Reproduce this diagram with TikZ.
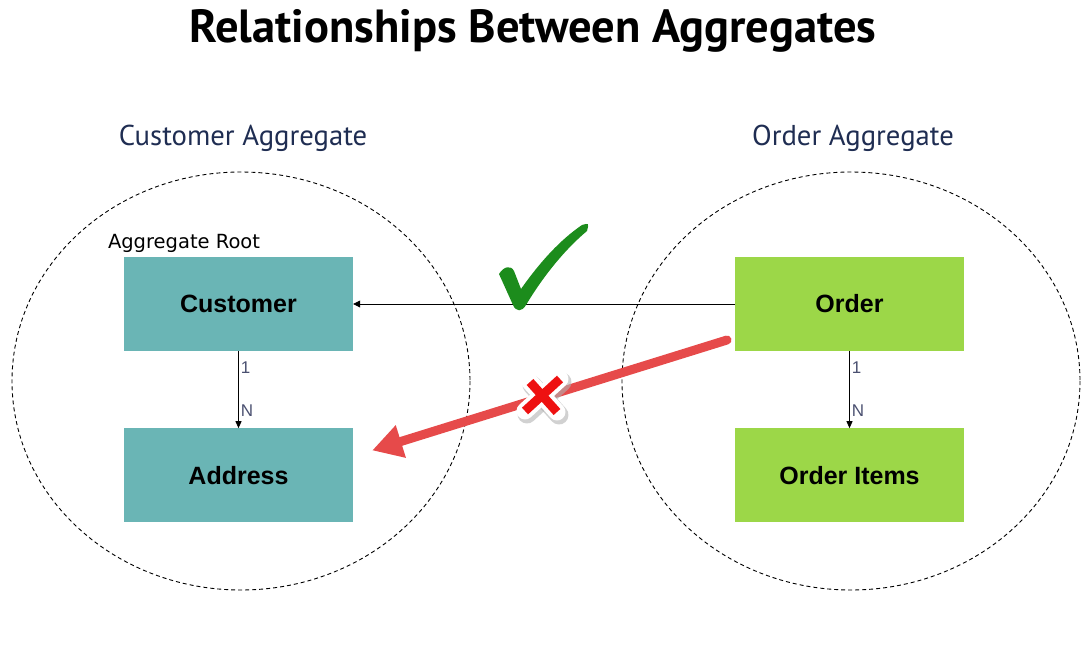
\documentclass[tikz,border=0pt]{standalone}
\usepackage{fontspec}
\usepackage{tikz}
\usetikzlibrary{positioning}
\usetikzlibrary{arrows.meta}
\newfontfamily\titlefont{PT Sans}
\newfontfamily\boxfont{Liberation Sans}
\newfontfamily\rootfont{DejaVu Sans}
\definecolor{aggteal}{HTML}{6AB5B5}
\definecolor{agggreen}{HTML}{9CD748}
\definecolor{aggnavy}{HTML}{1F2D52}
\definecolor{cardgray}{HTML}{4A5070}
\definecolor{badred}{HTML}{E64A4A}
\definecolor{crossred}{HTML}{EE1111}
\definecolor{checkgreen}{HTML}{1C8C1C}

\begin{document}
\begin{tikzpicture}[x=1pt,y=-1pt,
  entity/.style={minimum width=229pt,minimum height=94pt,inner sep=0pt,font=\boxfont\fontsize{25}{28}\selectfont\bfseries},
  aggregate/.style={draw,dashed,dash pattern=on 4pt off 3pt,line width=0.9pt},
  header/.style={font=\titlefont\fontsize{28.7}{32}\selectfont,text=aggnavy},
  card/.style={font=\boxfont\fontsize{17}{19}\selectfont,text=cardgray,inner sep=2pt}]
  \useasboundingbox (0,0) rectangle (1090,645);
  \node[font=\titlefont\fontsize{46.5}{52}\selectfont\bfseries] (title) at (533,31) {Relationships Between Aggregates};

  %left
  \draw[aggregate] (241,381) ellipse [x radius=229,y radius=209];
  \node[header] (custagg) at (243,138) {Customer Aggregate};
  \node[entity,fill=aggteal] (customer) at (238.5,304) {Customer};
  \node[entity,fill=aggteal,below=77pt of customer] (address) {Address};
  \node[at=(customer.north west),anchor=south west,xshift=-16pt,yshift=4pt,inner sep=0pt,font=\rootfont\fontsize{19.5}{22}\selectfont] (root) {Aggregate Root};
  \draw[-{Triangle[length=7pt,width=6pt]},line width=0.8pt] (customer) -- node[card,pos=0.22,right]{1} node[card,pos=0.77,right]{N} (address);

  %right
  \draw[aggregate] (851,381) ellipse [x radius=229,y radius=209];
  \node[header] (ordagg) at (853,138) {Order Aggregate};
  \node[entity,fill=agggreen] (order) at (849.5,304) {Order};
  \node[entity,fill=agggreen,below=77pt of order] (items) {Order Items};
  \draw[-{Triangle[length=7pt,width=6pt]},line width=0.8pt] (order) -- node[card,pos=0.22,right]{1} node[card,pos=0.77,right]{N} (items);

  %between
  \draw[-{Triangle[length=7pt,width=7pt]},line width=0.8pt] (order) -- (customer);
  \coordinate (badstart) at (727,340);
  \coordinate (badend) at ([xshift=19pt,yshift=25pt]address.east);
  \draw[badred,line width=9pt,line cap=round,-{Triangle[length=30pt,width=32pt]}] (badstart) -- (badend);
  \fill[checkgreen] (499,274) .. controls (504,266) and (511,265) .. (514,271) -- (521,289) .. controls (540,262) and (560,240) .. (582,225) .. controls (589,223) .. (587,231) .. controls (562,252) and (541,280) .. (526,305) .. controls (522,312) and (516,312) .. (513,305) -- cycle;
  \foreach \xa/\ya/\xb/\yb in {560/379/525/411,530/382/557/412}
    \draw[gray!60,line width=19pt,line cap=round,opacity=0.6] (\xa+2,\ya+3) -- (\xb+2,\yb+3);
  \foreach \xa/\ya/\xb/\yb in {560/379/525/411,530/382/557/412}
    \draw[white,line width=17pt,line cap=round] (\xa,\ya) -- (\xb,\yb);
  \foreach \xa/\ya/\xb/\yb in {560/379/525/411,530/382/557/412}
    \draw[crossred,line width=9pt] (\xa,\ya) -- (\xb,\yb);
\end{tikzpicture}
\end{document}
